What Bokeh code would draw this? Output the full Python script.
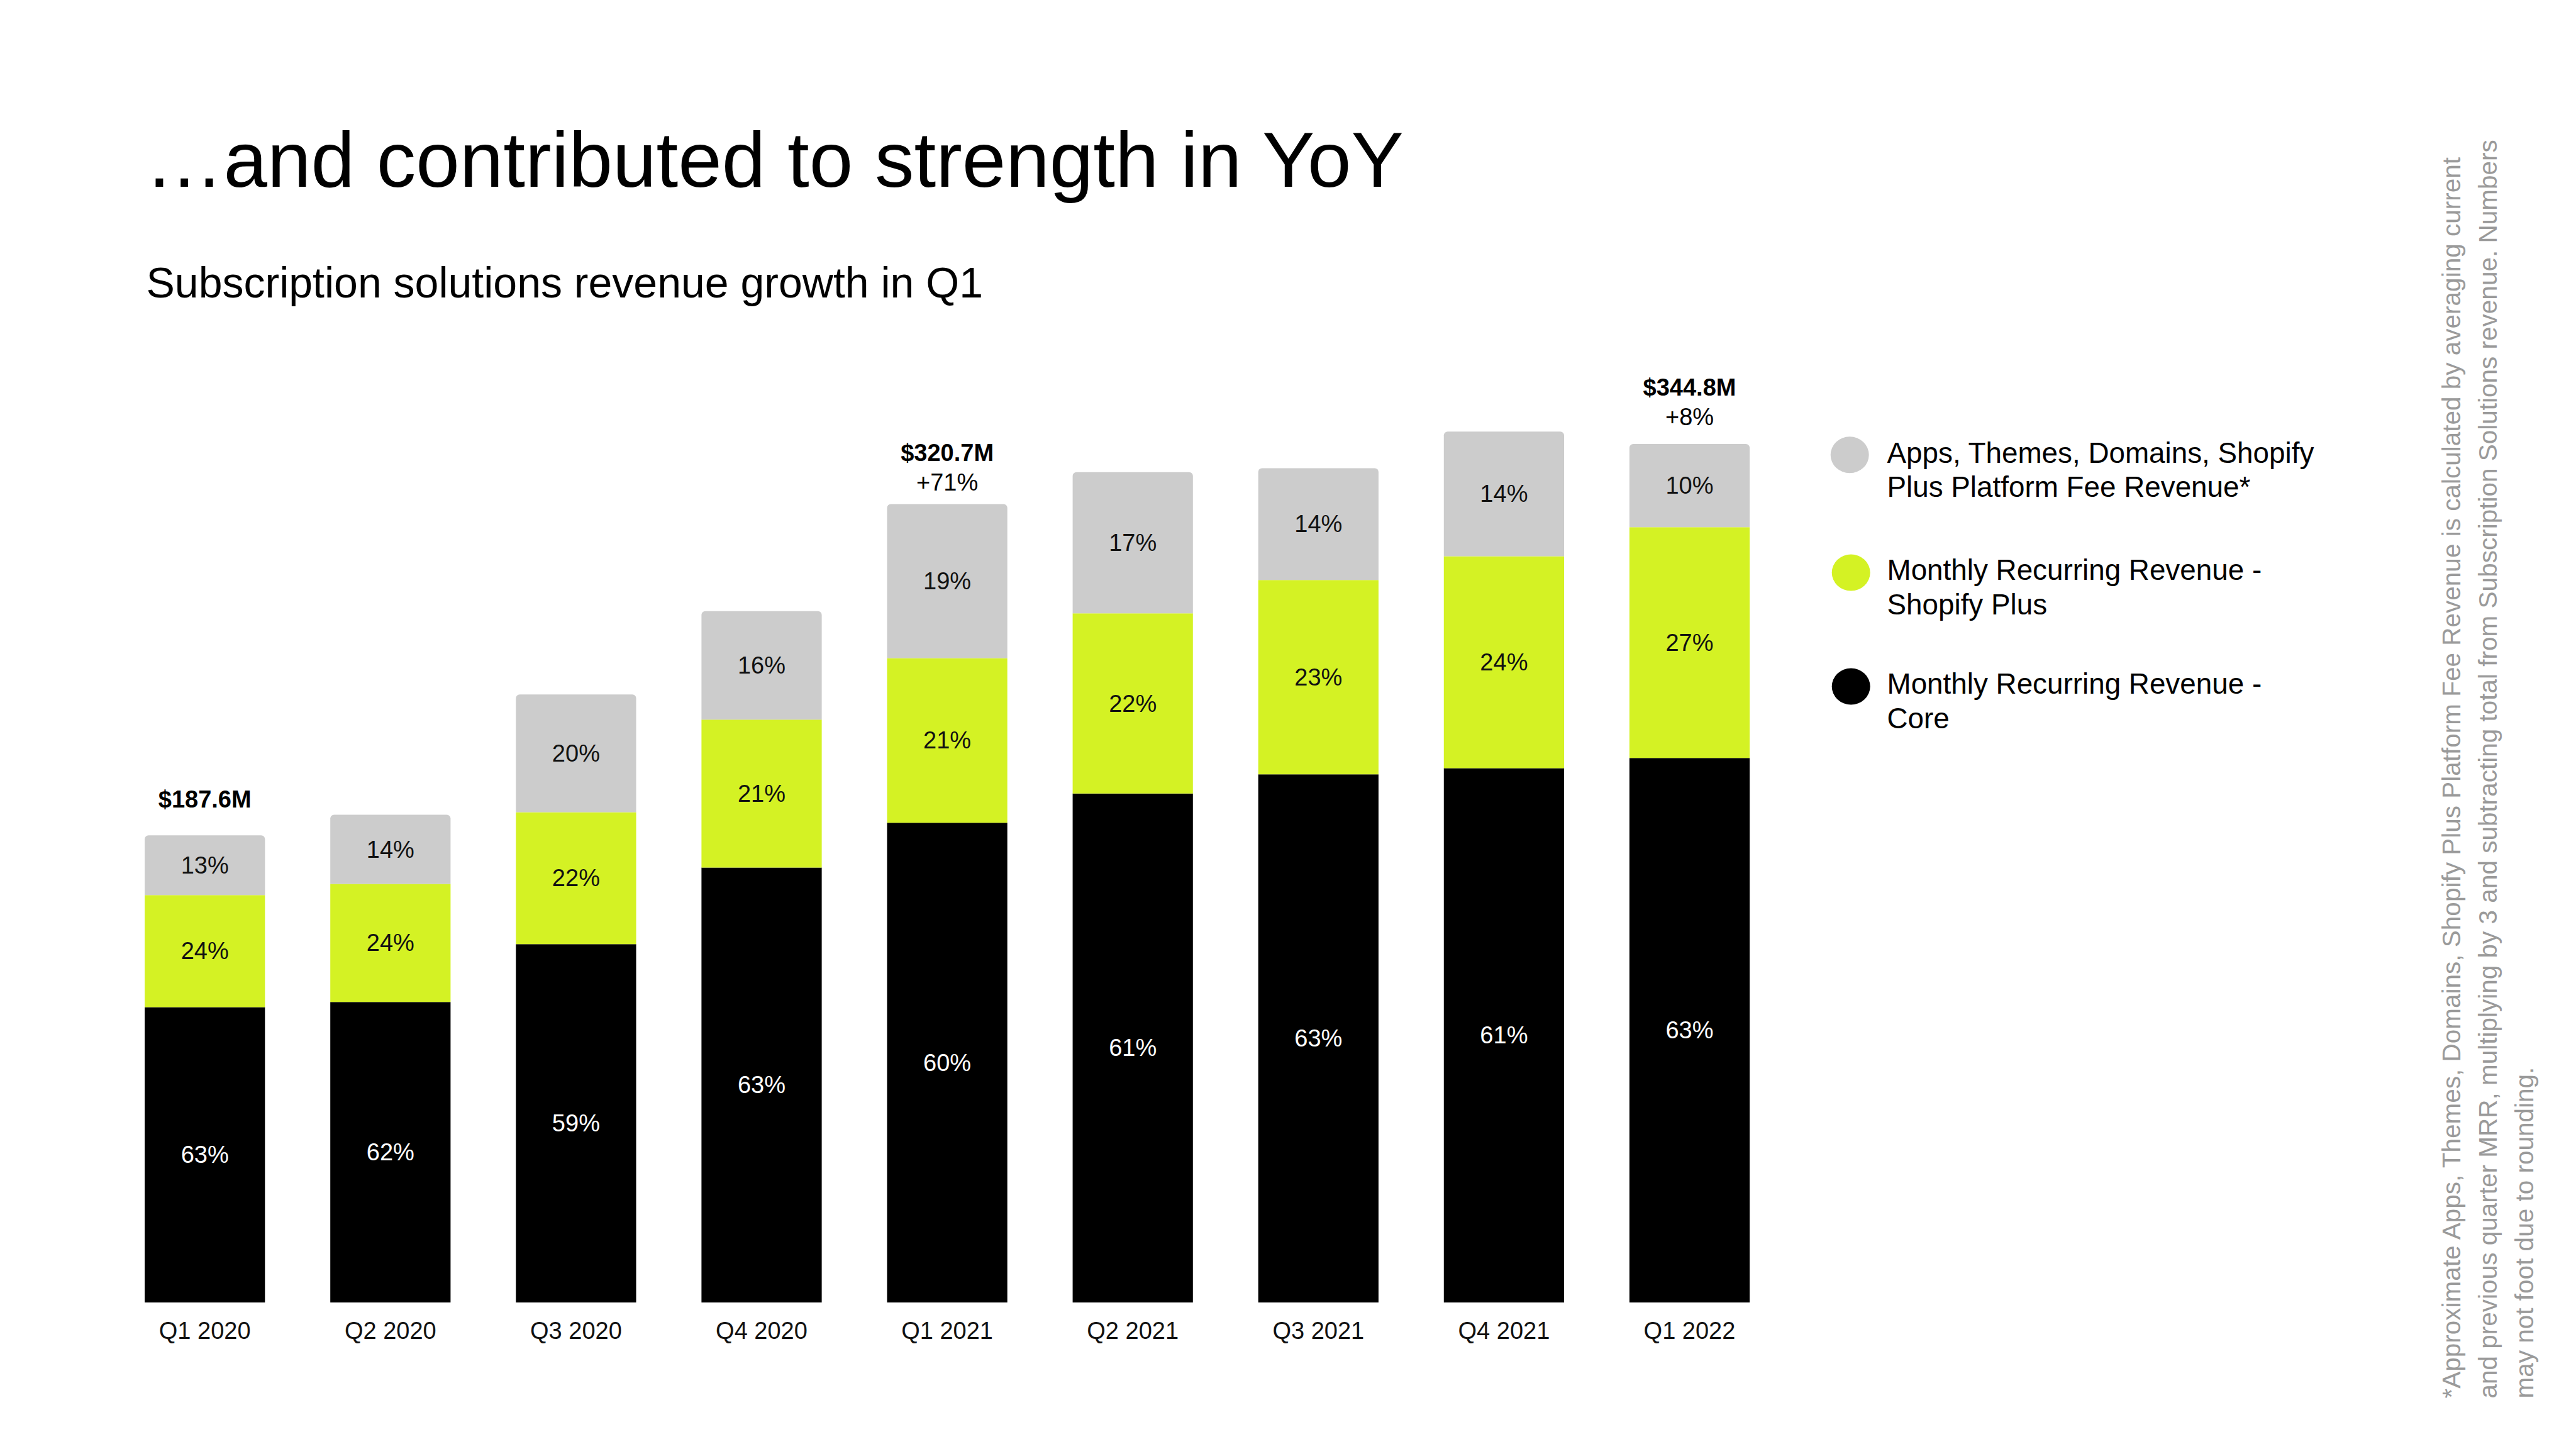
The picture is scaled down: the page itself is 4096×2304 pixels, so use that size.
import math
from bokeh.plotting import figure
from bokeh.models import Range1d, Label, ColumnDataSource
from bokeh.core.properties import value
from bokeh.embed import file_html
from bokeh.resources import INLINE

# ---------------- data (US$ millions) ----------------
quarters = ["Q1 2020", "Q2 2020", "Q3 2020", "Q4 2020", "Q1 2021",
            "Q2 2021", "Q3 2021", "Q4 2021", "Q1 2022"]
core = [118.6, 120.7, 143.9, 174.7, 192.7, 204.4, 212.1, 214.6, 218.7]
plus = [45.0, 47.4, 53.0, 59.4, 66.1, 72.4, 78.1, 85.1, 92.7]
apps = [24.0, 27.8, 47.3, 43.6, 61.9, 56.7, 44.9, 50.1, 33.4]
core_pct = ["63%", "62%", "59%", "63%", "60%", "61%", "63%", "61%", "63%"]
plus_pct = ["24%", "24%", "22%", "21%", "21%", "22%", "23%", "24%", "27%"]
apps_pct = ["13%", "14%", "20%", "16%", "19%", "17%", "14%", "14%", "10%"]
total_labels = ["$187.6M", "", "", "", "$320.7M", "", "", "", "$344.8M"]
growth_labels = ["", "", "", "", "+71%", "", "", "", "+8%"]

series_names = [
    "Apps, Themes, Domains, Shopify\nPlus Platform Fee Revenue*",
    "Monthly Recurring Revenue -\nShopify Plus",
    "Monthly Recurring Revenue -\nCore",
]
footnote_lines = [
    "*Approximate Apps, Themes, Domains, Shopify Plus Platform Fee Revenue is calculated by averaging current",
    "and previous quarter MRR, multiplying by 3 and subtracting total from Subscription Solutions revenue. Numbers",
    "may not foot due to rounding.",
]

# ---------------- styling ----------------
FONT = "Liberation Sans"
GRAY = "#CCCCCC"
GREEN = "#D4F224"
BLACK = "#000000"
W, H = 4080, 2288

X0, XSTEP = 325.2, 295.1          # screen px of first bar centre, bar step
Y0, YPX = 2070.5, 3.9587          # screen px (from top) of baseline, px per $M

# screen-pixel offsets (upwards) of the labels above selected bars
total_offset = {0: 57, 4: 81, 8: 90}
growth_offset = {4: 34, 8: 43}

def dx(sx):
    return (sx - X0) / XSTEP

def dy(sy_top):
    return (Y0 - sy_top) / YPX

p = figure(width=W, height=H, output_backend="svg", toolbar_location=None,
           x_axis_type=None, y_axis_type=None,
           x_range=Range1d(dx(0), dx(W)), y_range=Range1d(dy(H), dy(0)),
           min_border=0, outline_line_color=None, background_fill_color="white",
           border_fill_color="white")
p.xgrid.visible = False
p.ygrid.visible = False

idx = list(range(len(quarters)))
plus_top = [c + q for c, q in zip(core, plus)]
total = [c + q + a for c, q, a in zip(core, plus, apps)]

src = ColumnDataSource(dict(
    x=idx, core=core, plus_top=plus_top, total=total,
    core_mid=[c / 2 for c in core],
    plus_mid=[c + q / 2 for c, q in zip(core, plus)],
    apps_mid=[pt + a / 2 for pt, a in zip(plus_top, apps)],
    core_pct=core_pct, plus_pct=plus_pct, apps_pct=apps_pct,
    quarter=quarters,
))

BW = 0.648
p.vbar(x="x", bottom=0, top="core", width=BW, source=src, fill_color=BLACK, line_color=None)
p.vbar(x="x", bottom="core", top="plus_top", width=BW, source=src, fill_color=GREEN, line_color=None)
p.vbar(x="x", bottom="plus_top", top="total", width=BW, source=src, fill_color=GRAY, line_color=None,
       border_radius=(6, 6, 0, 0))

common = dict(text_font=value(FONT), text_font_size="38px", text_align="center",
              text_baseline="middle")
p.text(x="x", y="core_mid", text="core_pct", source=src, text_color="white", **common)
p.text(x="x", y="plus_mid", text="plus_pct", source=src, text_color="#111111", **common)
p.text(x="x", y="apps_mid", text="apps_pct", source=src, text_color="#111111", **common)

# category labels under the bars
p.text(x="x", y=0, text="quarter", source=src, text_color="#111111", y_offset=45,
       text_font=value(FONT), text_font_size="38px", text_align="center",
       text_baseline="alphabetic")

# totals and growth above selected bars
tot_x, tot_y, tot_t, tot_off = [], [], [], []
gr_x, gr_y, gr_t, gr_off = [], [], [], []
for i in idx:
    if total_labels[i]:
        tot_x.append(i); tot_y.append(total[i]); tot_t.append(total_labels[i])
        tot_off.append(-total_offset.get(i, 57))
    if growth_labels[i]:
        gr_x.append(i); gr_y.append(total[i]); gr_t.append(growth_labels[i])
        gr_off.append(-growth_offset.get(i, 34))
tsrc = ColumnDataSource(dict(x=tot_x, y=tot_y, t=tot_t, off=tot_off))
p.text(x="x", y="y", text="t", source=tsrc, y_offset="off", text_color="#000000",
       text_font=value(FONT), text_font_size="38px", text_font_style="bold",
       text_align="center", text_baseline="alphabetic")
gsrc = ColumnDataSource(dict(x=gr_x, y=gr_y, t=gr_t, off=gr_off))
p.text(x="x", y="y", text="t", source=gsrc, y_offset="off", text_color="#000000",
       text_font=value(FONT), text_font_size="38px",
       text_align="center", text_baseline="alphabetic")

# title / subtitle
p.add_layout(Label(x=230, y=H - 253, x_units="screen", y_units="screen",
                   text="\u2026and contributed to strength in YoY", text_font=FONT,
                   text_font_size="125px", text_color="#000000", text_baseline="alphabetic"))
p.add_layout(Label(x=232, y=H - 448, x_units="screen", y_units="screen",
                   text="Subscription solutions revenue growth in Q1", text_font=FONT,
                   text_font_size="68px", text_color="#000000", text_baseline="alphabetic"))

# legend (custom)
leg_colors = [GRAY, GREEN, BLACK]
leg_circle = [(2940.7, 722.8), (2942.7, 910.0), (2942.7, 1091.0)]
leg_anchor = [(720, 774), (906, 961), (1087, 1142)]
p.ellipse(x=[dx(c[0]) for c in leg_circle], y=[dy(c[1]) for c in leg_circle],
          width=61, height=58, width_units="screen", height_units="screen",
          fill_color=leg_colors, line_color=None)
for name, (b1, b2) in zip(series_names, leg_anchor):
    l1, l2 = name.split("\n")
    for txt, b in ((l1, b1), (l2, b2)):
        p.add_layout(Label(x=3000, y=H - b, x_units="screen", y_units="screen", text=txt,
                           text_font=FONT, text_font_size="45.8px", text_color="#000000",
                           text_baseline="alphabetic"))

# rotated footnote
for txt, fx in zip(footnote_lines, [3897, 3955, 4013]):
    p.add_layout(Label(x=fx, y=65, x_units="screen", y_units="screen", text=txt,
                       angle=math.pi / 2, text_font=FONT, text_font_size="40.5px",
                       text_color="#9A9A9A", text_baseline="alphabetic", text_align="left"))

open("out.html", "w").write(file_html(p, INLINE))
